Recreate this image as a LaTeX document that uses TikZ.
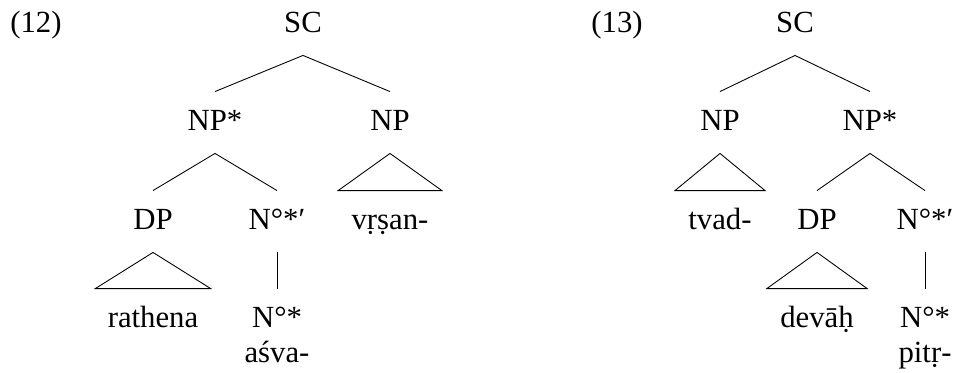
\documentclass[tikz,border=0pt]{standalone}
\usepackage{fontspec}
\setmainfont{Liberation Serif}

\tikzset{
  cat/.style={anchor=base, inner sep=0pt, text height=0.76cm, text depth=0.46cm,
    font=\fontsize{17.5}{20}\selectfont},
  ex/.style={anchor=base, inner sep=0pt, font=\fontsize{17.5}{20}\selectfont},
}

\begin{document}
\begin{tikzpicture}[x=0.02cm, y=-0.02cm, line width=0.5pt]
            \useasboundingbox (0,0) rectangle (953,372);
            % (12): NP* on the left
            \node[ex] (num12) at (36,32) {(12)};
            \node[cat] (sc1) at (303,32) {SC};
            \node[cat] (nps1) at (215,130) {NP*};
            \node[cat] (np1) at (390,130) {NP};
            \node[cat] (dp1) at (153,229) {DP};
            \node[cat] (nbar1) at (277,229) {N°*′};
            \node[cat] (vrsan) at (390,229) {vṛṣan-};
            \node[cat] (rathena) at (153,327) {rathena};
            \node[cat] (n1) at (277,327) {N°*};
            \node[ex] (asva) at (277,362) {aśva-};
            \draw (nps1.north) -- (sc1.south) -- (np1.north);
            \draw (dp1.north) -- (nps1.south) -- (nbar1.north);
            \draw (nbar1.south) -- (n1.north);
            \draw (np1.south) -- ([xshift=-0.26cm]vrsan.north west)
                -- ([xshift=0.26cm]vrsan.north east) -- cycle;
            \draw (dp1.south) -- ([xshift=-0.24cm]rathena.north west)
                -- ([xshift=0.24cm]rathena.north east) -- cycle;
            % (13): NP* on the right
            \node[ex] (num13) at (617,32) {(13)};
            \node[cat] (sc2) at (795,32) {SC};
            \node[cat] (np2) at (720,130) {NP};
            \node[cat] (nps2) at (870,130) {NP*};
            \node[cat] (tvad) at (720,229) {tvad-};
            \node[cat] (dp2) at (817,229) {DP};
            \node[cat] (nbar2) at (925,229) {N°*′};
            \node[cat] (devah) at (817,327) {devāḥ};
            \node[cat] (n2) at (925,327) {N°*};
            \node[ex] (pitr) at (925,362) {pitṛ-};
            \draw (np2.north) -- (sc2.south) -- (nps2.north);
            \draw (dp2.north) -- (nps2.south) -- (nbar2.north);
            \draw (nbar2.south) -- (n2.north);
            \draw (np2.south) -- ([xshift=-0.26cm]tvad.north west)
                -- ([xshift=0.26cm]tvad.north east) -- cycle;
            \draw (dp2.south) -- ([xshift=-0.26cm]devah.north west)
                -- ([xshift=0.26cm]devah.north east) -- cycle;
        \end{tikzpicture}
\end{document}
